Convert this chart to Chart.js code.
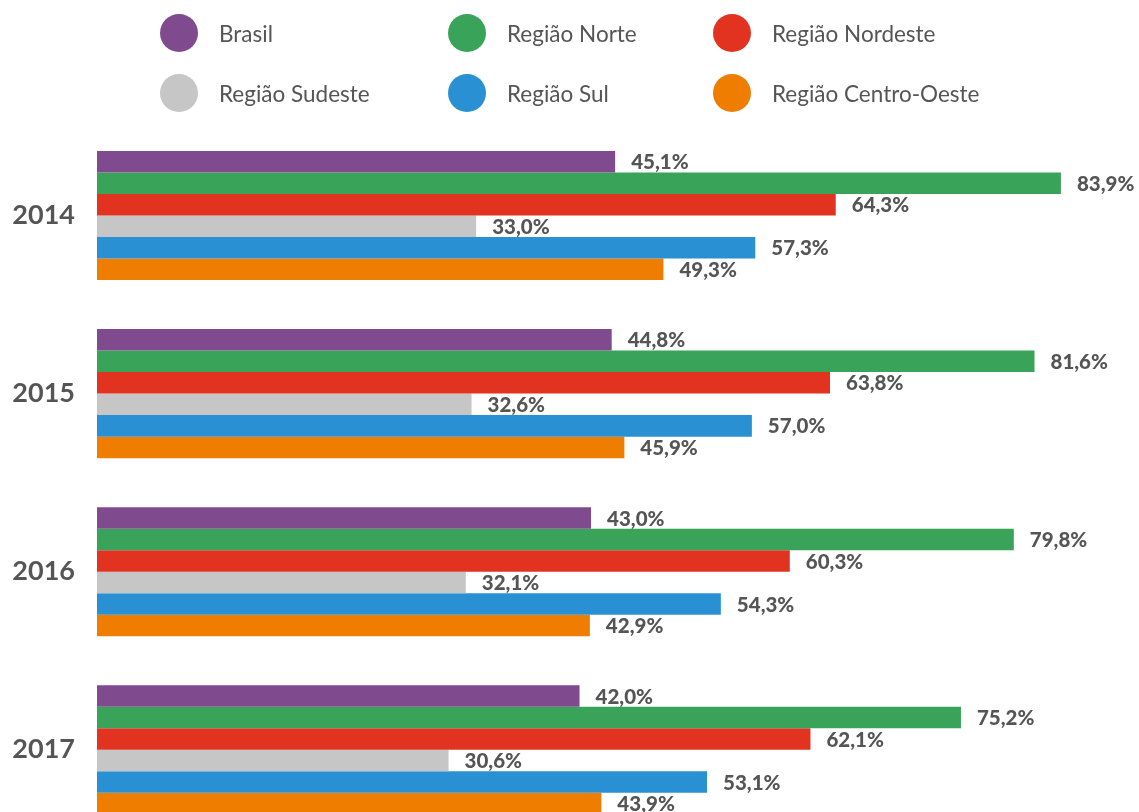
<!DOCTYPE html>
<html lang="pt-BR">
<head>
<meta charset="utf-8">
<title>Percentual por região, 2014–2017</title>
<script src="https://cdn.jsdelivr.net/npm/chart.js@4.4.1/dist/chart.umd.min.js"></script>
<style>
  html, body { margin: 0; padding: 0; background: #fff; overflow: hidden; }
  #wrap { position: relative; width: 1139px; height: 877px; }
  #chart { position: absolute; left: 0; top: 0; }
  #legend { position: absolute; left: 0; top: 0; width: 1139px; height: 120px; z-index: 2; }
  .item { position: absolute; display: flex; align-items: center; height: 38px;
          font: 22.5px Lato, sans-serif; color: #555; white-space: nowrap; }
  .dot { width: 38px; height: 38px; border-radius: 50%; margin-right: 21px; flex: none; }
</style>
</head>
<body>
<div id="wrap">
  <!-- taller than the window: the last group runs past the bottom edge -->
  <canvas id="chart" width="1139" height="877"></canvas>
  <div id="legend"></div>
</div>
<script>
const years = ["2014", "2015", "2016", "2017"];
const seriesNames = ["Brasil", "Região Norte", "Região Nordeste", "Região Sudeste", "Região Sul", "Região Centro-Oeste"];
const seriesColors = ["#804a8f", "#38a359", "#e13320", "#c6c6c6", "#2990d3", "#ef7d00"];

const brasil = [45.1, 44.8, 43.0, 42.0];
const norte = [83.9, 81.6, 79.8, 75.2];
const nordeste = [64.3, 63.8, 60.3, 62.1];
const sudeste = [33.0, 32.6, 32.1, 30.6];
const sul = [57.3, 57.0, 54.3, 53.1];
const centroOeste = [49.3, 45.9, 42.9, 43.9];

const seriesValues = [brasil, norte, nordeste, sudeste, sul, centroOeste];

// legend: three columns, two rows
const legendCols = [160, 448, 713];
const legendRows = [14, 74];
const legend = document.getElementById("legend");
seriesNames.forEach((name, i) => {
  const item = document.createElement("div");
  item.className = "item";
  item.style.left = legendCols[i % 3] + "px";
  item.style.top = legendRows[Math.floor(i / 3)] + "px";
  const dot = document.createElement("span");
  dot.className = "dot";
  dot.style.background = seriesColors[i];
  const label = document.createElement("span");
  label.textContent = name;
  item.appendChild(dot);
  item.appendChild(label);
  legend.appendChild(item);
});

const fmt = v => v.toFixed(1).replace(".", ",") + "%";

// value labels to the right of each bar
const valueLabels = {
  id: "valueLabels",
  afterDatasetsDraw(chart) {
    const ctx = chart.ctx;
    ctx.save();
    ctx.font = "900 20.5px Lato, sans-serif";
    ctx.fillStyle = "#555";
    ctx.textAlign = "left";
    ctx.textBaseline = "middle";
    chart.data.datasets.forEach((ds, i) => {
      chart.getDatasetMeta(i).data.forEach((bar, j) => {
        ctx.fillText(fmt(ds.data[j]), bar.x + 16, bar.y + 1);
      });
    });
    ctx.restore();
  }
};

new Chart(document.getElementById("chart"), {
  type: "bar",
  data: {
    labels: years,
    datasets: seriesNames.map((name, i) => ({
      label: name,
      data: seriesValues[i],
      backgroundColor: seriesColors[i],
      borderWidth: 0,
      barPercentage: 1,
      categoryPercentage: 0.7247
    }))
  },
  options: {
    indexAxis: "y",
    responsive: false,
    animation: false,
    layout: { padding: { top: 126.5, bottom: 1.5, left: 0, right: 8 } },
    plugins: { legend: { display: false }, tooltip: { enabled: false } },
    scales: {
      x: { display: false, min: 0, max: 90 },
      y: {
        grid: { display: false, drawTicks: false, tickLength: 0 },
        border: { display: false },
        ticks: { color: "#555", font: { family: "Lato", size: 27, weight: "bold" }, padding: 22 },
        afterFit(scale) { scale.width = 97; }
      }
    }
  },
  plugins: [valueLabels]
});
</script>
</body>
</html>
